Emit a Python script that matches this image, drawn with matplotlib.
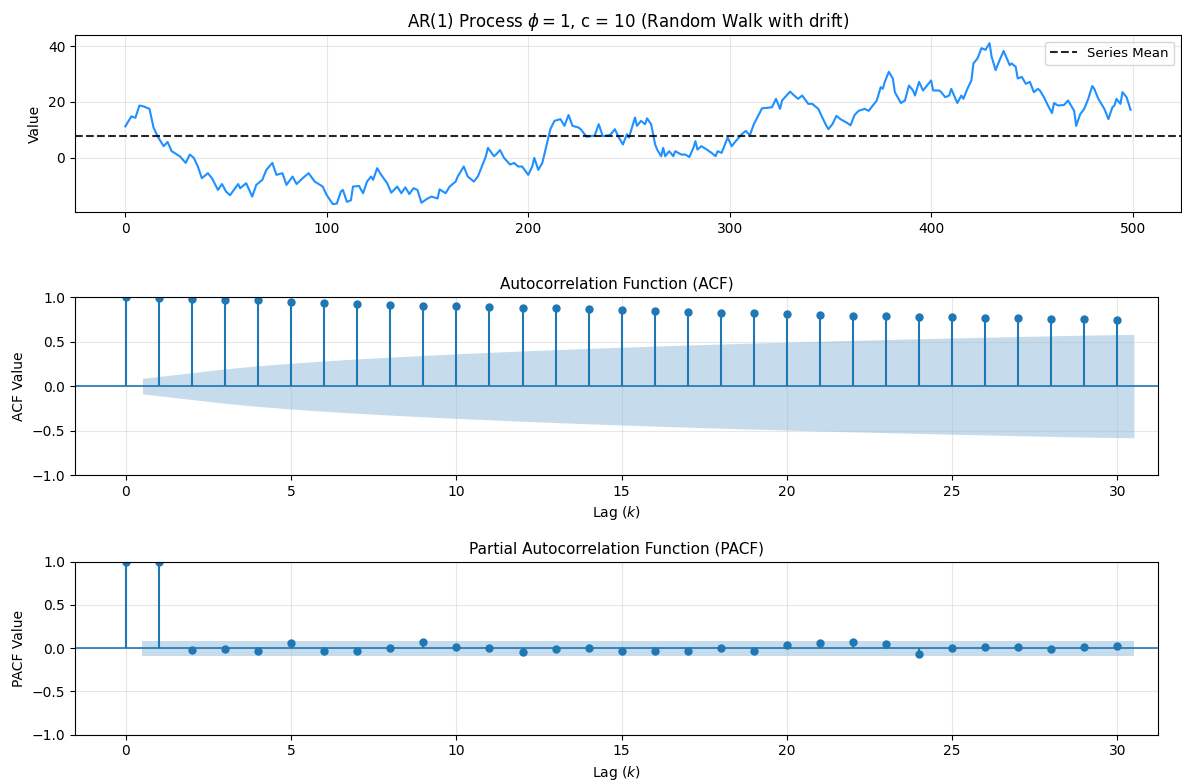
import numpy as np
import matplotlib
matplotlib.use("Agg")
import matplotlib.pyplot as plt

# time series (time step, value)
t_steps = [0, 3, 5, 7, 9, 12, 14, 16, 19, 21, 23, 27, 30, 32, 34, 36, 38, 41, 43, 46,
           48, 50, 52, 56, 57, 60, 63, 65, 68, 70, 73, 75, 78, 80, 83, 85, 88, 91, 94, 98,
           100, 103, 105, 107, 108, 110, 112, 113, 116, 118, 120, 122, 123, 125, 127, 130,
           132, 135, 137, 139, 141, 143, 145, 147, 150, 152, 155, 156, 159, 161, 164, 165,
           168, 170, 173, 175, 178, 179, 180, 183, 184, 186, 188, 191, 193, 195, 197, 200,
           202, 203, 205, 207, 209, 211, 213, 216, 218, 220, 222, 225, 226, 229, 231, 233,
           235, 237, 240, 241, 243, 245, 247, 249, 250, 253, 254, 256, 258, 259, 261, 263,
           264, 266, 267, 268, 270, 272, 273, 276, 278, 280, 282, 283, 284, 286, 288, 291,
           293, 294, 296, 299, 301, 303, 306, 308, 310, 312, 315, 316, 319, 321, 323, 325,
           326, 330, 332, 334, 336, 339, 341, 344, 346, 348, 349, 351, 353, 355, 358, 360,
           362, 364, 367, 369, 373, 375, 376, 377, 379, 381, 382, 385, 387, 389, 391, 392,
           394, 396, 398, 400, 401, 404, 405, 407, 409, 410, 413, 415, 416, 418, 420, 421,
           423, 425, 427, 429, 430, 432, 434, 436, 439, 440, 442, 443, 445, 447, 449, 451,
           453, 454, 456, 458, 460, 461, 463, 466, 468, 471, 472, 474, 476, 478, 480, 481,
           483, 486, 488, 490, 491, 492, 494, 495, 497, 499]
values = [11.2, 14.8, 14.3, 18.7, 18.4, 17.5, 10.8, 7.7, 4.1, 5.6, 2.3, 0.5, -1.9, 1.1, -0.1, -3.2, -7.4, -5.6, -7.4, -11.6,
          -9.5, -12.2, -13.5, -9.5, -11.0, -9.2, -14.0, -9.8, -8.0, -4.4, -1.9, -6.2, -5.6, -9.8, -6.8, -9.5, -7.4, -5.6, -8.6, -10.4,
          -13.5, -16.7, -16.5, -12.2, -11.6, -15.9, -15.3, -10.4, -10.2, -12.8, -8.6, -6.8, -8.0, -3.8, -6.2, -9.2,
          -12.6, -10.4, -12.8, -10.7, -13.1, -11.0, -11.6, -16.2, -14.7, -14.0, -14.7, -11.4, -12.8, -10.4, -8.6, -6.8,
          -3.2, -6.8, -8.6, -6.8, -1.3, 0.5, 3.5, 0.5, 1.1, 2.7, -0.1, -2.5, -1.9, -3.2, -3.2, -6.2,
          -3.2, -0.1, -4.4, -1.9, 4.1, 10.2, 13.2, 13.8, 11.4, 15.3, 11.4, 10.8, 10.2, 7.5, 7.7, 7.9,
          12.0, 7.7, 8.0, 8.4, 10.2, 7.2, 4.7, 8.4, 7.2, 14.4, 11.4, 13.2, 12.0, 14.1, 12.0, 4.7,
          2.9, 0.5, 3.5, 0.5, 2.3, 0.5, 2.3, 1.1, 1.1, 0.2, 3.5, 5.9, 2.9, 4.1, 3.2, 1.7,
          0.5, 2.3, 1.7, 7.2, 4.1, 5.9, 8.4, 9.6, 8.0, 12.0, 16.2, 17.7, 17.9, 18.1, 21.1, 17.5,
          20.5, 23.7, 22.3, 21.1, 22.3, 19.3, 19.3, 17.5, 14.4, 11.4, 10.2, 12.0, 15.0, 13.8, 12.6, 11.6,
          15.3, 16.8, 17.5, 16.8, 20.5, 25.3, 24.7, 27.2, 30.8, 28.4, 23.5, 19.6, 20.5, 25.9, 24.1, 22.3,
          27.2, 24.1, 25.9, 27.7, 24.1, 24.1, 23.5, 21.7, 22.3, 24.7, 19.6, 22.3, 21.1, 24.7, 27.7, 33.8,
          35.6, 39.3, 38.7, 41.1, 36.3, 31.4, 35.0, 38.3, 33.2, 33.8, 32.6, 28.4, 29.0, 26.5, 27.2, 23.5,
          24.7, 24.1, 21.7, 18.7, 16.0, 19.6, 18.7, 18.9, 20.5, 16.8, 11.4, 15.6, 17.5, 21.1, 25.7, 24.7,
          21.1, 17.5, 13.8, 18.1, 18.7, 21.1, 19.3, 23.5, 21.7, 17.2]
series_mean = 7.6
n_obs = 500

lags = list(range(31))
acf_vals = [1.0, 0.993, 0.981, 0.970, 0.963, 0.948, 0.929, 0.918, 0.910, 0.906, 0.899,
            0.888, 0.876, 0.876, 0.865, 0.852, 0.843, 0.831, 0.820, 0.820, 0.809,
            0.798, 0.787, 0.787, 0.775, 0.775, 0.764, 0.764, 0.757, 0.757, 0.745]
pacf_vals = [1.0, 0.99, -0.019, -0.008, -0.027, 0.061, -0.031, -0.031, 0.004, 0.077, 0.008,
             0.0, -0.042, -0.008, 0.004, -0.031, -0.038, -0.038, 0.0, -0.038, 0.038,
             0.061, 0.077, 0.046, -0.069, 0.0, 0.011, 0.008, -0.008, 0.011, 0.023]


def draw_corr(ax, vals, band, ylabel, title):
    x = np.array(lags, dtype=float)
    ax.vlines(x, 0, vals, color="C0", lw=1.5)
    ax.plot(x, vals, "o", color="C0", markersize=5)
    ax.axhline(0, color="C0", lw=1.2)
    bx = x[1:].copy()
    bx[0] -= 0.5
    bx[-1] += 0.5
    ax.fill_between(bx, -band, band, color="C0", alpha=0.25, lw=0)
    ax.set_xlim(-1.54, 31.24)
    ax.set_ylim(-1.0, 1.0)
    ax.set_title(title, fontsize=11)
    ax.set_xlabel("Lag ($k$)")
    ax.set_ylabel(ylabel)
    ax.grid(True, alpha=0.3)


fig = plt.figure(figsize=(11.82, 7.8), dpi=100)
ax_ts = fig.add_axes([0.0635, 0.728, 0.9355, 0.227])
ax_acf = fig.add_axes([0.0635, 0.391, 0.9165, 0.228])
ax_pacf = fig.add_axes([0.0635, 0.058, 0.9165, 0.222])

ax_ts.plot(t_steps, values, color="#1e90ff", lw=1.5)
ax_ts.axhline(series_mean, color="k", ls="--", lw=1.5, alpha=0.85, label="Series Mean")
ax_ts.set_xlim(-24.95, 523.95)
ax_ts.set_title(r"AR(1) Process $\phi = 1$, c = 10 (Random Walk with drift)", fontsize=12)
ax_ts.set_ylabel("Value")
ax_ts.legend(loc="upper right", fontsize=9.5)
ax_ts.grid(True, alpha=0.3)

# Bartlett band for the ACF
acf_arr = np.array(acf_vals)
acf_band = 1.96 * np.sqrt((1 + 2 * np.cumsum(np.r_[0, acf_arr[1:-1] ** 2])) / n_obs)
draw_corr(ax_acf, acf_vals, acf_band, "ACF Value", "Autocorrelation Function (ACF)")

pacf_band = np.full(30, 1.96 / np.sqrt(n_obs))
draw_corr(ax_pacf, pacf_vals, pacf_band, "PACF Value", "Partial Autocorrelation Function (PACF)")

fig.savefig("out.png", dpi=100)
